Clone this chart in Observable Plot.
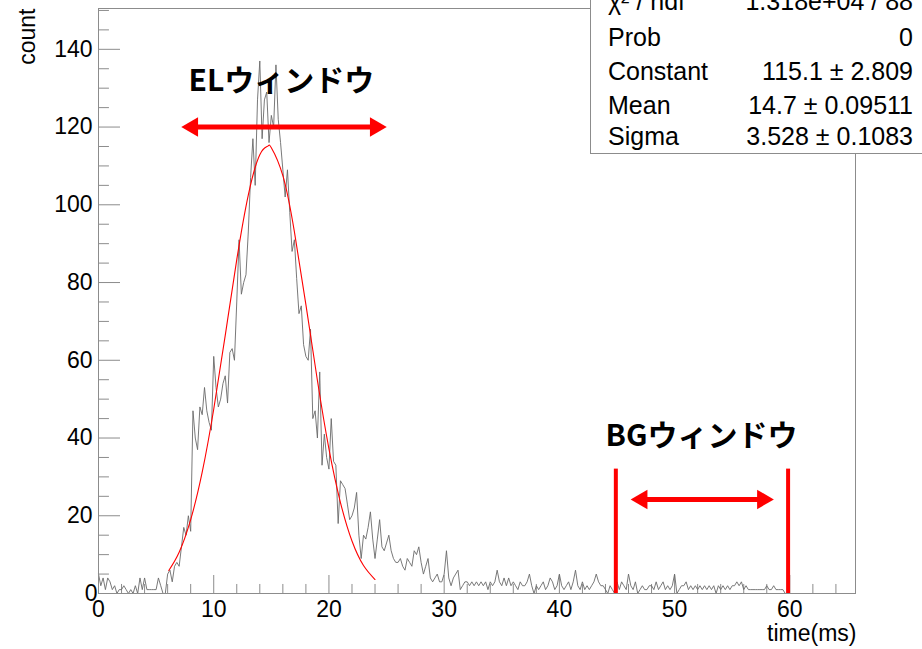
<!DOCTYPE html>
<html><head><meta charset="utf-8">
<script src="https://cdn.jsdelivr.net/npm/d3@7"></script>
<script src="https://cdn.jsdelivr.net/npm/@observablehq/plot@0.6"></script>
<style>
html,body{margin:0;padding:0;background:#fff;overflow:hidden;}
#wrap{position:relative;width:922px;height:649px;overflow:hidden;font-family:"Liberation Sans",Arial,sans-serif;}
#chart{position:absolute;left:0;top:0;}
#stats{position:absolute;left:590px;top:-40px;width:400px;height:194px;border:1px solid #8c8c8c;background:#fff;box-sizing:border-box;}
.row{position:absolute;left:608px;width:305px;font-size:25px;line-height:25px;color:#000;white-space:nowrap;}
.row .v{position:absolute;right:0;top:0;}
.deco-l{position:absolute;left:-15px;top:271px;width:28px;height:28px;box-sizing:border-box;background:#22ace2;border:3px solid #1b7fa6;transform:rotate(45deg);}
.deco-r{position:absolute;left:882px;top:261px;width:60px;height:54px;box-sizing:border-box;background:#21b0e6;border:3px solid #1780aa;}
</style>
</head><body>
<div id="wrap">
  <div class="deco-l"></div>
  <div class="deco-r"></div>
  <div id="chart"></div>
</div>
<script>
// histogram: counts per 0.2 ms bin, starting at 0 ms
const binStart = 0;
const binWidth = 0.2;
const counts = [
  5,2,4,1,4,  3,1,2,0,1,  1,2,1,0,1,  0,2,0,4,1,  4,1,1,1,1,
  1,4,2,0,0,  5,6,3,7,8,  7,12,17,15,20,  16,47,40,37,48,  46,53,47,44,42,
  61,53,48,50,54,  56,49,62,63,60,  75,91,77,80,82,  93,107,117,105,127,  137,117,127,129,116,
  123,120,136,122,116,  109,102,109,98,88,  91,81,72,74,64,  61,60,68,45,47,  40,57,33,41,35,
  32,45,34,33,18,  29,28,27,23,19,  20,22,26,15,9,  15,14,17,21,14,  9,14,19,12,11,
  13,15,11,9,8,  8,9,7,6,9,  8,7,11,10,12,  8,5,7,9,4,  3,4,5,3,3,
  5,11,4,2,4,  5,6,1,2,3,  3,2,3,2,3,  2,3,2,3,1,  3,2,3,6,3,
  2,4,2,4,2,  3,2,1,3,2,  2,3,5,2,0,  2,1,2,3,1,  2,4,3,1,2,
  5,2,1,2,3,  1,3,6,2,1,  3,1,2,1,2,  3,5,3,2,2,  1,0,2,1,0,
  3,1,3,2,1,  5,2,1,3,0,  1,2,1,1,2,  2,1,3,1,2,  3,1,2,1,2,
  5,0,1,2,2,  3,1,2,1,2,  1,2,1,2,1,  2,1,2,0,2,  1,2,1,2,1,
  2,2,3,2,3,  1,2,1,1,1,  1,1,1,1,1,  2,1,1,2,1,  1,1,1,0,0
];

// gaussian fit curve
const fitTime  = [6.1, 7, 8, 9, 10, 11, 12, 13, 14, 14.7, 15, 16, 17, 18, 19, 20, 21, 22, 23, 24];
const fitValue = [5.9, 10.6, 19.0, 31.2, 47.4, 66.4, 85.9, 102.5, 112.9, 115.1, 114.7, 107.5, 93.1, 74.3, 54.8, 37.2, 23.4, 13.5, 7.2, 3.6];

// axes
const xDomain = [0, 65.7];
const yDomain = [0, 150.5];
const xTickLabels = [0, 10, 20, 30, 40, 50, 60];
const xMinorTicks = [2,4,6,8,12,14,16,18,22,24,26,28,32,34,36,38,42,44,46,48,52,54,56,58,62,64];
const yTickLabels = [0, 20, 40, 60, 80, 100, 120, 140];
const yMinorTicks = [5,10,15,25,30,35,45,50,55,65,70,75,85,90,95,105,110,115,125,130,135,145,150];

// annotations
const windowLabels = [
  {x: 15.87, y: 131.8, text: "ELウィンドウ"},
  {x: 52.33, y: 40.5, text: "BGウィンドウ"}
];
const arrows = [
  {x1: 7.2, x2: 25.0, y: 120},
  {x1: 46.2, x2: 58.6, y: 24.2}
];
const bgEdges = [44.9, 59.85];
const bgEdgeTop = 32;

// stats box
const statNames = ["χ² / ndf", "Prob", "Constant", "Mean", "Sigma"];
const statValues = ["1.318e+04 / 88", "0", "115.1 ± 2.809", "14.7 ± 0.09511", "3.528 ± 0.1083"];

const hist = counts.map((c, i) => ({t: binStart + i * binWidth, c}));
const fit = fitTime.map((t, i) => ({t, v: fitValue[i]}));

const axisColor = "#8c8c8c";
const chart = Plot.plot({
  width: 922, height: 649,
  marginLeft: 98, marginRight: 67, marginTop: 8, marginBottom: 56,
  x: {domain: xDomain, axis: null},
  y: {domain: yDomain, axis: null},
  style: {fontFamily: "'Liberation Sans', Arial, sans-serif", fontSize: "23px", background: "white", overflow: "visible"},
  marks: [
    Plot.ruleX(xTickLabels, {x: d => d, y1: 0, y2: 4.63, stroke: axisColor}),
    Plot.ruleX(xMinorTicks, {x: d => d, y1: 0, y2: 2.32, stroke: axisColor}),
    Plot.ruleY(yTickLabels, {y: d => d, x1: 0, x2: 1.91, stroke: axisColor}),
    Plot.ruleY(yMinorTicks, {y: d => d, x1: 0, x2: 0.95, stroke: axisColor}),
    Plot.line(hist, {x: "t", y: "c", stroke: "#6a6a6a", strokeWidth: 0.9}),
    Plot.line(fit, {x: "t", y: "v", stroke: "#ff0000", strokeWidth: 1.1, curve: "natural"}),
    Plot.frame({stroke: axisColor}),
    Plot.text(xTickLabels, {x: d => d, y: 0, text: d => String(d), dy: 16, lineAnchor: "middle", fontSize: 23, fill: "black"}),
    Plot.text(yTickLabels.filter(d => d > 0), {x: 0, y: d => d, text: d => String(d), dx: -6, textAnchor: "end", lineAnchor: "middle", fontSize: 23, fill: "black"}),
    Plot.text([0], {x: 0, y: 0, text: d => String(d), dx: -1, textAnchor: "end", lineAnchor: "middle", fontSize: 23, fill: "black"}),
    Plot.text(["count"], {frameAnchor: "top-left", text: d => d, rotate: -90, textAnchor: "end", lineAnchor: "middle", dx: -71, fontSize: 23, fill: "black"}),
    Plot.text(["time(ms)"], {frameAnchor: "bottom-right", text: d => d, textAnchor: "end", lineAnchor: "middle", dy: 40, dx: 1, fontSize: 23, fill: "black"}),
    // annotations
    Plot.ruleX(bgEdges, {x: d => d, y1: 0, y2: bgEdgeTop, stroke: "#ff0000", strokeWidth: 4}),
    Plot.ruleY(arrows, {y: "y", x1: "x1", x2: "x2", stroke: "#ff0000", strokeWidth: 5, insetLeft: 8, insetRight: 8}),
    Plot.dot(arrows, {x: "x1", y: "y", rotate: -90, dx: 11, symbol: "triangle", r: 7.2, fill: "#ff0000", stroke: "none"}),
    Plot.dot(arrows, {x: "x2", y: "y", rotate: 90, dx: -11, symbol: "triangle", r: 7.2, fill: "#ff0000", stroke: "none"}),
    Plot.text(windowLabels, {x: "x", y: "y", text: "text", fontSize: 30, fontWeight: "bold", fontFamily: "'Noto Sans CJK JP', 'Noto Sans', sans-serif", fill: "black", lineAnchor: "middle"})
  ]
});
document.getElementById("chart").appendChild(chart);

// stats box (ROOT statistics panel)
const wrap = document.getElementById("wrap");
const box = document.createElement("div");
box.id = "stats";
wrap.appendChild(box);
const rowTops = [-11, 25, 59, 93, 124];
statNames.forEach((n, i) => {
  const r = document.createElement("div");
  r.className = "row";
  r.style.top = rowTops[i] + "px";
  const a = document.createElement("span");
  a.textContent = n;
  const b = document.createElement("span");
  b.className = "v";
  b.textContent = statValues[i];
  r.appendChild(a); r.appendChild(b);
  wrap.appendChild(r);
});
</script>
</body></html>
